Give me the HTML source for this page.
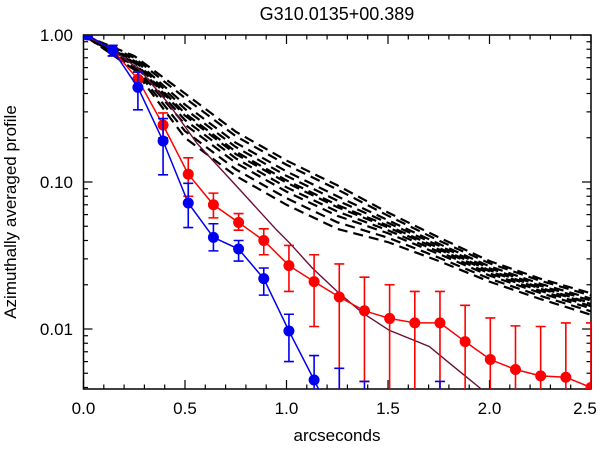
<!DOCTYPE html>
<html><head><meta charset="utf-8"><style>
html,body{margin:0;padding:0;background:#fff;width:600px;height:450px;overflow:hidden}
svg{display:block;overflow:hidden;font-family:"Liberation Sans",sans-serif}
</style></head><body>
<svg id="chart" width="600" height="450" viewBox="0 0 600 450">
<defs><clipPath id="clip"><rect x="83.5" y="35" width="507.5" height="354"/></clipPath></defs>
<text x="337" y="20" text-anchor="middle" font-size="18">G310.0135+00.389</text>
<text x="337" y="441" text-anchor="middle" font-size="17">arcseconds</text>
<text transform="translate(16,212) rotate(-90)" text-anchor="middle" font-size="17">Azimuthally averaged profile</text>
<g id="axes"></g>
<g id="marks" clip-path="url(#clip)"></g>
</svg>
<script>
// ---- data ----
const modelKnotsX = [0,0.25,0.5,0.75,1.0,1.25,1.5,1.75,2.0,2.25,2.5];
const model1 = [1,0.72,0.40,0.22,0.14,0.095,0.062,0.042,0.029,0.022,0.0175];
const model2 = [1,0.70,0.373,0.205,0.131,0.089,0.059,0.040,0.028,0.0213,0.0169];
const model3 = [1,0.68,0.336,0.185,0.118,0.080,0.055,0.038,0.0267,0.0203,0.0161];
const model4 = [1,0.667,0.314,0.173,0.110,0.0748,0.0527,0.0369,0.0259,0.0197,0.0156];
const model5 = [1,0.653,0.293,0.161,0.1026,0.0698,0.0504,0.0356,0.0251,0.0191,0.0150];
const model6 = [1,0.646,0.283,0.155,0.099,0.0675,0.0491,0.0348,0.0247,0.0188,0.0148];
const model7 = [1,0.632,0.264,0.145,0.092,0.063,0.0469,0.0336,0.0239,0.0182,0.0143];
const model8 = [1,0.618,0.246,0.135,0.086,0.0589,0.0448,0.0324,0.0231,0.0176,0.0138];
const model9 = [1,0.598,0.222,0.122,0.0776,0.0532,0.0418,0.0306,0.022,0.0168,0.0132];
const model10 = [1,0.58,0.20,0.11,0.07,0.048,0.039,0.029,0.021,0.016,0.0125];
const obsX = [0.02,0.144,0.268,0.392,0.516,0.64,0.764,0.888,1.012,1.136,1.26,1.384,1.508,1.632,1.756,1.88,2.004,2.128,2.252,2.376,2.5];
const redValues = [1.0,0.79,0.50,0.244,0.113,0.070,0.053,0.040,0.027,0.021,0.0165,0.0133,0.0118,0.0110,0.0110,0.0082,0.0062,0.0053,0.0048,0.0047,0.0040];
const redUpper = [1.0,0.85,0.56,0.295,0.146,0.084,0.061,0.048,0.037,0.032,0.0277,0.0225,0.020,0.018,0.018,0.0145,0.0119,0.0105,0.0104,0.011,0.011];
const redLower = [1.0,0.72,0.45,0.20,0.080,0.057,0.047,0.032,0.018,0.0104,0.003,0.0044,0.003,0.003,0.003,0.003,0.003,0.003,0.003,0.003,0.003];
const blueValues = [1.0,0.79,0.44,0.19,0.072,0.042,0.035,0.022,0.0097,0.0045,0.002,0.0015,0.001,0.001,0.001];
const blueUpper = [1.0,0.85,0.56,0.27,0.098,0.052,0.040,0.026,0.0126,0.0066,0.0054,0.0044,0.002,0.002,0.0044];
const blueLower = [1.0,0.72,0.31,0.112,0.049,0.034,0.029,0.017,0.006,0.003,0.001,0.001,0.001,0.001,0.001];
const psfX = [0,0.14,0.278,0.42,0.558,0.75,0.951,1.015,1.128,1.25,1.373,1.506,1.703,1.80,1.95,2.05];
const psfValues = [1.0,0.80,0.578,0.34,0.184,0.095,0.0472,0.0385,0.0259,0.018,0.0129,0.0098,0.0076,0.0059,0.0040,0.0030];
const xTickLabels = ["0.0","0.5","1.0","1.5","2.0","2.5"];
const xTickValues = [0,0.5,1.0,1.5,2.0,2.5];
const yTickLabels = ["1.00","0.10","0.01"];
const yTickValues = [1,0.1,0.01];

// ---- scales ----
const X0=83.5,X1=591,Y0=35,Y1=389;
const xs=v=>X0+v/2.5*(X1-X0);
const ysRaw=v=>Y0-Math.log10(v)*147;
const ys=v=>Math.min(ysRaw(v),Y1);
const NS="http://www.w3.org/2000/svg";
const axes=document.getElementById('axes'), marks=document.getElementById('marks');
function mk(tag,attrs,parent){const e=document.createElementNS(NS,tag);for(const k in attrs)e.setAttribute(k,attrs[k]);parent.appendChild(e);return e;}

const frame=mk('rect',{x:X0,y:Y0,width:X1-X0,height:Y1-Y0,fill:'none',stroke:'#000','stroke-width':1.5},axes);


for(let i=0;i<=25;i++){const v=i/10;const x=xs(v);const L=(i%5===0)?9:4.5;
 mk('line',{x1:x,x2:x,y1:Y1,y2:Y1-L,stroke:'#000','stroke-width':1.2},axes);
 mk('line',{x1:x,x2:x,y1:Y0,y2:Y0+L,stroke:'#000','stroke-width':1.2},axes);}
xTickValues.forEach((v,i)=>{const t=mk('text',{x:Math.min(xs(v),585),y:414,'text-anchor':'middle','font-size':17},axes);t.textContent=xTickLabels[i];
 
 });
for(let d=0;d>=-3;d--){for(let m=1;m<=9;m++){const v=m*Math.pow(10,d-1)*10;const y=ysRaw(v);if(y<Y0-0.1||y>Y1)continue;const L=(m===1)?9:4.5;
 mk('line',{x1:X0,x2:X0+L,y1:y,y2:y,stroke:'#000','stroke-width':1.2},axes);
 mk('line',{x1:X1,x2:X1-L,y1:y,y2:y,stroke:'#000','stroke-width':1.2},axes);}}
yTickValues.forEach((v,i)=>{const t=mk('text',{x:73,y:ysRaw(v)+6,'text-anchor':'end','font-size':17},axes);t.textContent=yTickLabels[i];
 
 });

[model1,model2,model3,model4,model5,model6,model7,model8,model9,model10].forEach((arr,ci)=>{
 const p=mk('polyline',{points:arr.map((v,i)=>xs(modelKnotsX[i])+','+ys(v)).join(' '),fill:'none',stroke:'#000','stroke-width':2.2,'stroke-dasharray':'10,6','stroke-dashoffset':ci*3},marks);
 
 });

// line polyline clipped to bottom edge by interpolation
function clippedPoints(xv,yv){
 const pts=[];
 for(let i=0;i<yv.length;i++){
  const y=ysRaw(yv[i]),x=xs(xv[i]);
  if(y<=Y1){pts.push([x,y]);}
  else{
   if(i>0&&ysRaw(yv[i-1])<=Y1){const y0=ysRaw(yv[i-1]),x0=xs(xv[i-1]);const t=(Y1-y0)/(y-y0);pts.push([x0+t*(x-x0),Y1]);}
   break;
  }
 }
 return pts.map(p=>p[0]+','+p[1]).join(' ');
}
const psf=mk('polyline',{points:clippedPoints(psfX,psfValues),fill:'none',stroke:'#6a0f3a','stroke-width':1.4},marks);


function series(vals,up,lo,color,name){
 const xsArr=obsX.slice(0,vals.length);
 const l=mk('polyline',{points:clippedPoints(xsArr,vals),fill:'none',stroke:color,'stroke-width':1.5},marks);
 
 
 vals.forEach((v,i)=>{const x=xs(xsArr[i]);
  const yu=ysRaw(up[i]);
  if(yu<Y1){
   const yl=ysRaw(lo[i]);
   let d=`M${x},${yu}V${Math.min(yl,Y1)}M${x-5},${yu}h10`;
   if(yl<=Y1) d+=`M${x-5},${yl}h10`;
   const e=mk('path',{d:d,stroke:color,'stroke-width':1.6,fill:'none'},marks);
   
   
  }
  const yv=ysRaw(v);
  if(yv<=Y1){
   const c=mk('circle',{cx:x,cy:yv,r:5.5,fill:color},marks);
   
   
  }});
}
series(redValues,redUpper,redLower,'#f00','red-series');
series(blueValues,blueUpper,blueLower,'#0000f0','blue-series');
</script>
</body></html>
